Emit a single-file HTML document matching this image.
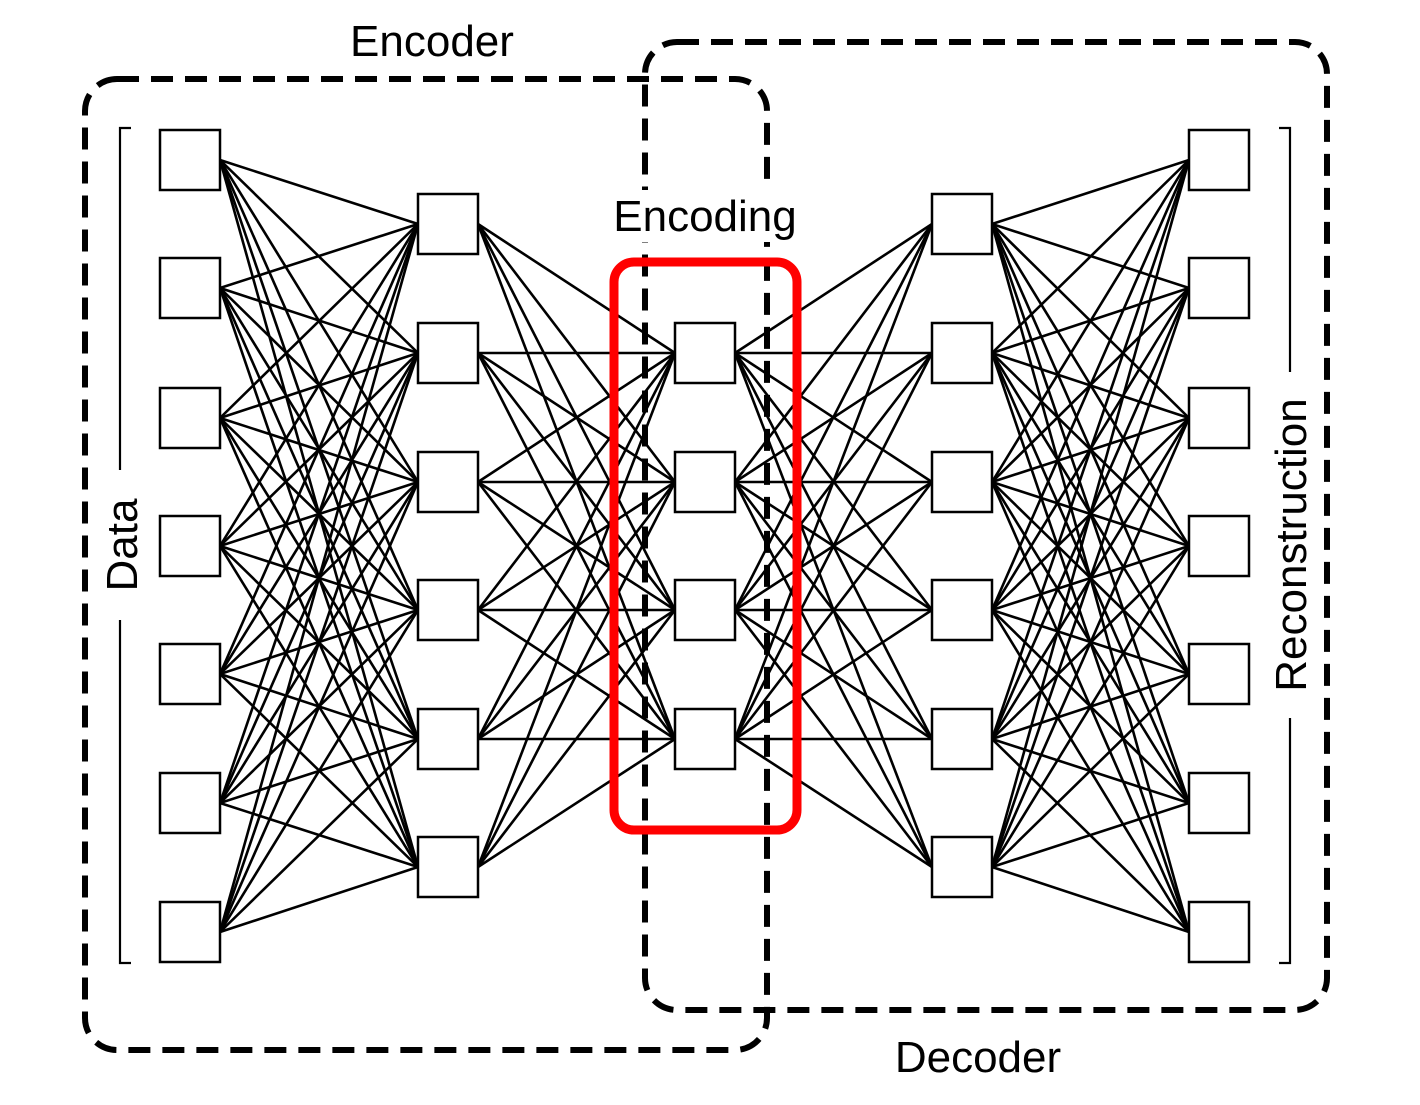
<!DOCTYPE html>
<html><head><meta charset="utf-8"><style>html,body{margin:0;padding:0;background:#fff}</style></head>
<body>
<svg id="s" width="1420" height="1100" viewBox="0 0 1420 1100" xmlns="http://www.w3.org/2000/svg" font-family="Liberation Sans, sans-serif">
<g id="lines" stroke="#000" stroke-width="2.6"></g>
<g id="boxes" fill="#fff" stroke="#000" stroke-width="2.5"></g>
<rect x="85" y="79" width="682" height="971" rx="32" fill="none" stroke="#000" stroke-width="6" stroke-dasharray="22 12"/>
<rect x="645" y="42" width="682" height="968" rx="32" fill="none" stroke="#000" stroke-width="6" stroke-dasharray="22 12"/>
<rect x="614" y="262" width="183" height="568" rx="20" fill="none" stroke="#f00" stroke-width="9"/>
<rect x="608" y="190" width="194" height="52" fill="#fff"/>
<g stroke="#000" stroke-width="2.2" fill="none">
<path d="M131 128 H120 V470 M120 620 V963 H131"/>
<path d="M1279 128 H1290 V372 M1290 718 V963 H1279"/>
</g>
<g font-size="44" fill="#000" text-anchor="middle">
<text x="432" y="56">Encoder</text>
<text x="978" y="1072">Decoder</text>
<text x="705" y="231">Encoding</text>
<text transform="translate(137,545) rotate(-90)">Data</text>
<text transform="translate(1306,545) rotate(-90)">Reconstruction</text>
</g>
</svg>
<script>
var L=[[160,[160,288,418,546,674,803,932]],[418,[224,353,482,610,739,867]],[675,[353,482,610,739]],[932,[224,353,482,610,739,867]],[1189,[160,288,418,546,674,803,932]]];
var ns="http://www.w3.org/2000/svg",lg=document.getElementById('lines'),bg=document.getElementById('boxes');
for(var i=0;i<L.length-1;i++){var a=L[i],b=L[i+1];a[1].forEach(function(y1){b[1].forEach(function(y2){var l=document.createElementNS(ns,'line');l.setAttribute('x1',a[0]+60);l.setAttribute('y1',y1);l.setAttribute('x2',b[0]);l.setAttribute('y2',y2);lg.appendChild(l);});});}
L.forEach(function(c){c[1].forEach(function(y){var r=document.createElementNS(ns,'rect');r.setAttribute('x',c[0]);r.setAttribute('y',y-30);r.setAttribute('width',60);r.setAttribute('height',60);bg.appendChild(r);});});
</script>
</body></html>
